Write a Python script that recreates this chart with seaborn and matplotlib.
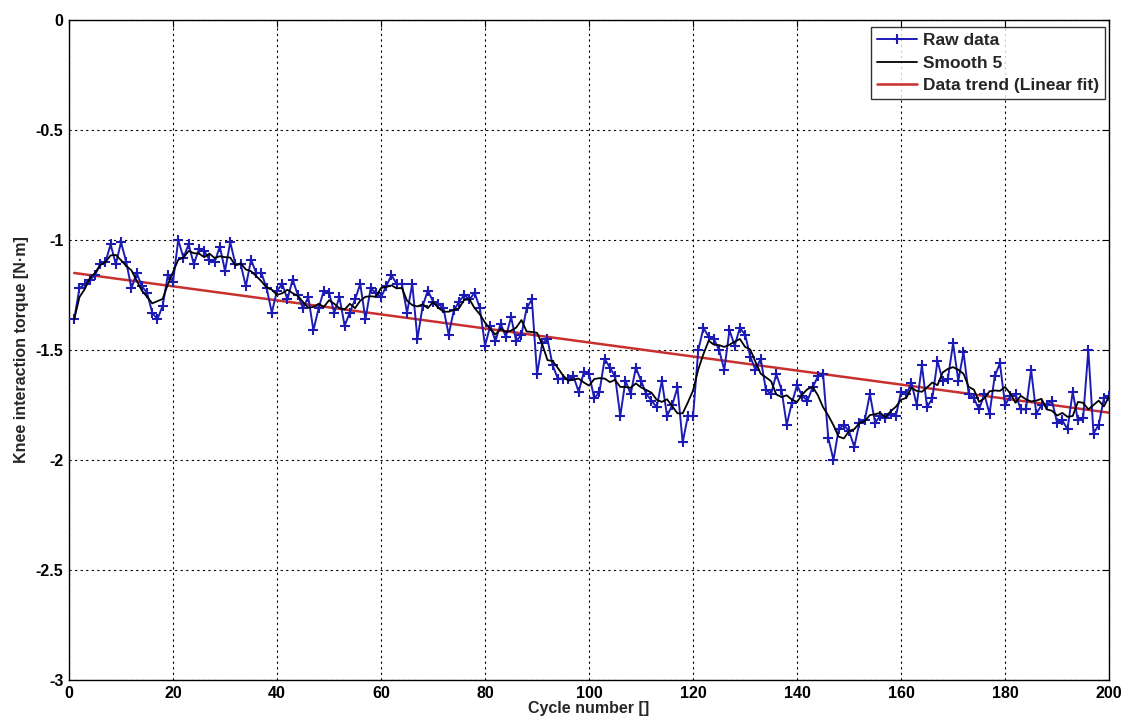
import numpy as np
import pandas as pd
import matplotlib
matplotlib.use("Agg")
import matplotlib.pyplot as plt
import seaborn as sns

# raw torque per cycle (cycles 1..200)
torque_1_40 = [-1.36, -1.22, -1.20, -1.18, -1.16, -1.11, -1.10, -1.02, -1.11, -1.01,
               -1.10, -1.22, -1.15, -1.21, -1.24, -1.33, -1.36, -1.30, -1.16, -1.19,
               -1.00, -1.08, -1.02, -1.11, -1.04, -1.05, -1.09, -1.10, -1.03, -1.14,
               -1.01, -1.11, -1.11, -1.21, -1.09, -1.15, -1.15, -1.22, -1.33, -1.23]
torque_41_80 = [-1.20, -1.27, -1.18, -1.25, -1.31, -1.26, -1.41, -1.31, -1.23, -1.24,
                -1.33, -1.26, -1.39, -1.33, -1.27, -1.20, -1.36, -1.22, -1.24, -1.26,
                -1.21, -1.16, -1.20, -1.20, -1.33, -1.20, -1.45, -1.30, -1.23, -1.28,
                -1.29, -1.31, -1.43, -1.32, -1.28, -1.25, -1.27, -1.24, -1.31, -1.48]
torque_81_120 = [-1.39, -1.46, -1.38, -1.44, -1.35, -1.46, -1.43, -1.31, -1.27, -1.61,
                 -1.47, -1.45, -1.57, -1.63, -1.63, -1.63, -1.62, -1.69, -1.60, -1.61,
                 -1.72, -1.69, -1.54, -1.58, -1.62, -1.80, -1.64, -1.70, -1.58, -1.64,
                 -1.70, -1.73, -1.76, -1.64, -1.80, -1.75, -1.67, -1.92, -1.80, -1.80]
torque_121_160 = [-1.50, -1.40, -1.44, -1.45, -1.50, -1.59, -1.41, -1.48, -1.40, -1.43,
                  -1.53, -1.59, -1.54, -1.68, -1.70, -1.61, -1.68, -1.84, -1.74, -1.66,
                  -1.71, -1.73, -1.67, -1.62, -1.61, -1.90, -2.00, -1.86, -1.84, -1.87,
                  -1.94, -1.83, -1.82, -1.70, -1.83, -1.80, -1.81, -1.79, -1.80, -1.69]
torque_161_200 = [-1.70, -1.65, -1.75, -1.57, -1.76, -1.72, -1.55, -1.64, -1.63, -1.47,
                  -1.64, -1.51, -1.70, -1.72, -1.77, -1.70, -1.79, -1.62, -1.56, -1.75,
                  -1.71, -1.70, -1.77, -1.77, -1.59, -1.79, -1.75, -1.75, -1.73, -1.83,
                  -1.82, -1.86, -1.69, -1.82, -1.81, -1.50, -1.88, -1.84, -1.72, -1.71]

# linear trend end points
trend_cycles = [1, 200]
trend_values = [-1.15, -1.785]

raw = np.array(torque_1_40 + torque_41_80 + torque_81_120 + torque_121_160 + torque_161_200)
cycles = np.arange(1, len(raw) + 1)


def smooth5(y):
    # matlab style moving average, span shrinks near the ends
    out = np.empty_like(y)
    n = len(y)
    for i in range(n):
        h = min(2, i, n - 1 - i)
        out[i] = y[i - h:i + h + 1].mean()
    return out


df = pd.DataFrame({"cycle": cycles, "raw": raw, "smooth": smooth5(raw)})
trend_df = pd.DataFrame({"cycle": trend_cycles, "trend": trend_values})

sns.set_style("white")
plt.rcParams["font.family"] = ["Liberation Sans", "DejaVu Sans"]
plt.rcParams["font.weight"] = "bold"

fig = plt.figure(figsize=(11.26, 7.24), dpi=100)
ax = fig.add_axes([0.0613, 0.0608, 0.9237, 0.9116])

blue = "#1c1cb4"
sns.lineplot(data=df, x="cycle", y="raw", ax=ax, color=blue, lw=1.4,
             marker="+", markersize=7, markeredgewidth=1.5, markeredgecolor=blue,
             label="Raw data", zorder=3)
sns.lineplot(data=df, x="cycle", y="smooth", ax=ax, color="black", lw=1.3,
             label="Smooth 5", zorder=4)
sns.lineplot(data=trend_df, x="cycle", y="trend", ax=ax, color="#c83030", lw=1.8,
             label="Data trend (Linear fit)", zorder=2)

ax.set_xlim(0, 200)
ax.set_ylim(-3, 0)
ax.set_xticks(range(0, 201, 20))
ax.set_yticks([0, -0.5, -1, -1.5, -2, -2.5, -3])
ax.set_yticklabels(["0", "-0.5", "-1", "-1.5", "-2", "-2.5", "-3"])
ax.tick_params(direction="in", length=5, labelsize=11.5, colors="black", pad=4,
               top=True, right=True)
for lab in ax.get_xticklabels() + ax.get_yticklabels():
    lab.set_fontweight("bold")
ax.grid(True, linestyle=(0, (2, 3)), color="black", lw=0.8)
for sp in ax.spines.values():
    sp.set_color("black")
    sp.set_linewidth(1.0)

ax.set_xlabel("Cycle number []", fontsize=11.5, fontweight="bold", labelpad=0)
ax.set_ylabel("Knee interaction torque [N·m]", fontsize=11.5, fontweight="heavy", labelpad=5)

leg = ax.legend(loc="upper right", bbox_to_anchor=(0.9965, 0.9895), frameon=True, fancybox=False,
                fontsize=12.5, handlelength=2.3, borderpad=0.35, labelspacing=0.43,
                handletextpad=0.35, borderaxespad=0.0)
leg.get_frame().set_edgecolor("black")
leg.get_frame().set_linewidth(1.0)
for t in leg.get_texts():
    t.set_fontweight("bold")

fig.savefig("out.png", dpi=100)
